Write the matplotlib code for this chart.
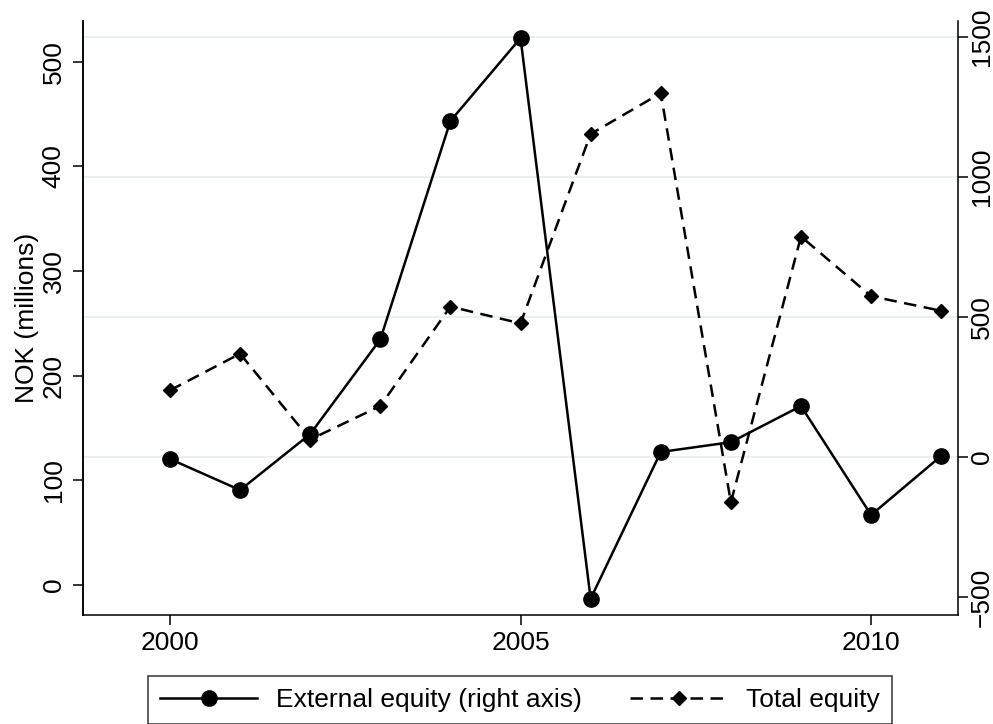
import matplotlib
matplotlib.use("Agg")
import matplotlib.pyplot as plt

plt.rcParams['font.family'] = ['Liberation Sans', 'DejaVu Sans']
plt.rcParams['font.size'] = 19

# data
years = [2000, 2001, 2002, 2003, 2004, 2005, 2006, 2007, 2008, 2009, 2010, 2011]
external_equity = [-7, -118, 82, 420, 1200, 1496, -506, 18, 53, 182, -207, 4]    # right axis
total_equity = [186, 221, 139, 171, 266, 250, 431, 470, 79, 333, 276, 262]       # left axis

left_ticks = [0, 100, 200, 300, 400, 500]
right_ticks = [-500, 0, 500, 1000, 1500]
grid_ticks = [0, 500, 1000, 1500]
x_ticks = [2000, 2005, 2010]

fig = plt.figure(figsize=(9.93, 7.24), dpi=100)
ax = fig.add_axes([0.0836, 0.1506, 0.8812, 0.8204])   # right-axis scale (host)
ax2 = ax.twinx()                                       # left-axis scale
ax2.yaxis.tick_left()
ax2.yaxis.set_label_position('left')
ax.yaxis.tick_right()

# gridlines at right-axis values
for g in grid_ticks:
    ax.axhline(g, color='#e5eef1', lw=1.2, zorder=0)

ax.plot(years, external_equity, color='black', lw=1.8, marker='o', markersize=11,
        label='External equity (right axis)', zorder=3)
ax2.plot(years, total_equity, color='black', lw=1.8, dashes=(5, 3), marker='D',
         markersize=7.5, label='Total equity', zorder=3)

ax.set_xlim(1998.76, 2011.24)
ax.set_ylim(-564, 1557)
ax2.set_ylim(-28.7, 539)

ax.set_xticks(x_ticks)
ax.set_yticks(right_ticks)
ax2.set_yticks(left_ticks)

for a in (ax, ax2):
    a.spines['top'].set_visible(False)
    for s in a.spines.values():
        s.set_linewidth(1.1)
ax2.spines['bottom'].set_visible(False)
ax2.spines['right'].set_visible(False)

ax.tick_params(axis='x', direction='out', length=7.5, width=1.1, pad=4)
ax.tick_params(axis='y', direction='out', length=7.5, width=1.1, pad=1, labelrotation=90)
ax2.tick_params(axis='y', direction='out', length=7.5, width=1.1, pad=5, labelrotation=90)
for lbl in ax.get_yticklabels() + ax2.get_yticklabels():
    lbl.set_verticalalignment('center')

ax2.set_ylabel('NOK (millions)', labelpad=2)

h1, l1 = ax.get_legend_handles_labels()
h2, l2 = ax2.get_legend_handles_labels()
leg = fig.legend(h1 + h2, l1 + l2, loc='upper center', bbox_to_anchor=(0.5237, 0.0663),
                 ncol=2, frameon=True, fancybox=False, handlelength=3.7,
                 handletextpad=0.72, columnspacing=1.8, borderpad=0.45, borderaxespad=0)
leg.get_frame().set_edgecolor('black')
leg.get_frame().set_linewidth(1.1)

fig.savefig('out.png', dpi=100)
